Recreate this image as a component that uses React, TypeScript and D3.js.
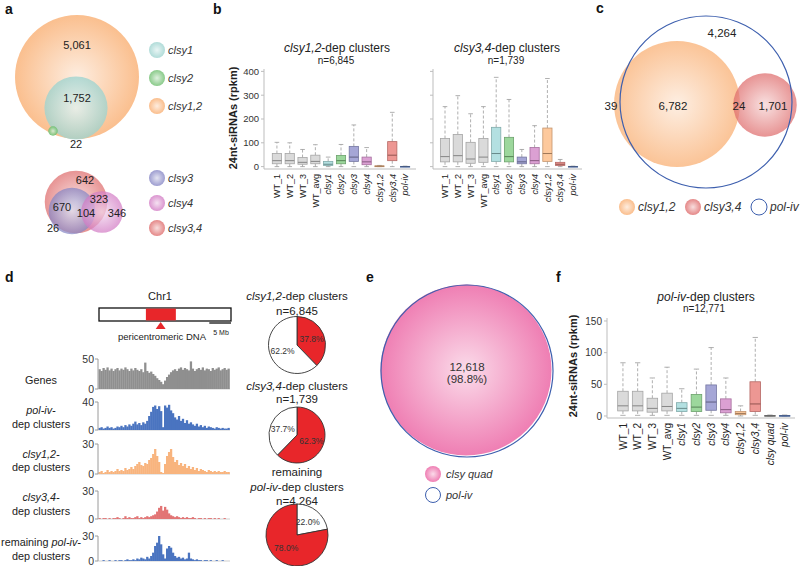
import * as d3 from 'd3';
import React from 'react';

const FONT = "'Liberation Sans', Arial, sans-serif";

// ---------- panel a : Venn counts ----------
const vennATopSets = ['clsy1,2', 'clsy1', 'clsy2'];
const vennATopSizes = [6835, 1774, 40];
const vennATopLabels = ['5,061', '1,752', '22'];
const vennABotSets = ['clsy3,4', 'clsy3', 'clsy4'];
const vennABotSizes = [1739, 800, 773];
const vennABotLabels = ['642', '323', '670', '104', '346', '26'];
const legendA1 = ['clsy1', 'clsy2', 'clsy1,2'];
const legendA2 = ['clsy3', 'clsy4', 'clsy3,4'];

// ---------- panel b : box plots [low, q1, median, q3, high] ----------
const bCats = ['WT_1', 'WT_2', 'WT_3', 'WT_avg', 'clsy1', 'clsy2', 'clsy3', 'clsy4', 'clsy1,2', 'clsy3,4', 'pol-iv'];
const bStats12 = [
  [0, 12, 25, 55, 102], [0, 12, 25, 55, 100], [0, 10, 18, 38, 72], [0, 12, 22, 48, 92],
  [0, 5, 10, 22, 40], [0, 12, 25, 47, 93], [0, 22, 40, 85, 175], [0, 8, 20, 40, 80],
  [0, 1, 2, 3, 5], [0, 25, 48, 105, 228], [0, 0, 0.5, 1, 2],
];
const bStats34 = [
  [0, 20, 42, 118, 252], [0, 20, 46, 135, 298], [0, 14, 32, 102, 222], [0, 18, 40, 118, 252],
  [0, 22, 55, 165, 375], [0, 20, 42, 123, 282], [0, 12, 20, 40, 72], [0, 12, 25, 80, 172],
  [0, 22, 55, 162, 370], [0, 5, 10, 18, 30], [0, 0, 0.5, 1, 2],
];
const bTicks = [0, 100, 200, 300, 400];

// ---------- panel c ----------
const vennCSets = ['pol-iv', 'clsy1,2', 'clsy3,4'];
const vennCSizes = [12771, 6845, 1739];
const vennCLabels = ['4,264', '39', '6,782', '24', '1,701'];
const legendC = ['clsy1,2', 'clsy3,4', 'pol-iv'];

// ---------- panel d : chromosome + tracks ----------
const chrLengthMb = 30.4;
const pericentromereMb = [10.8, 17.7];
const centromereMb = 14.2;
const scaleBarMb = 5;
const trackMax = [50, 40, 30, 30, 30];
const genesBins = [33, 30, 35, 32, 36, 31, 34, 30, 33, 35, 31, 34, 32, 36, 33, 30, 34, 31, 35, 32, 30, 33, 28, 44, 30, 27, 29, 25, 22, 18, 15, 12, 8, 14, 20, 24, 28, 31, 33, 30, 34, 36, 32, 35, 33, 31, 46, 34, 30, 33, 35, 32, 36, 31, 34, 33, 30, 35, 32, 34, 36, 31, 33, 35, 32, 34];
const polivBins = [3, 4, 2, 3, 5, 3, 4, 2, 3, 5, 4, 6, 4, 7, 5, 8, 6, 9, 12, 8, 10, 7, 11, 9, 13, 20, 26, 33, 35, 30, 34, 27, 4, 35, 32, 36, 28, 24, 18, 15, 20, 13, 16, 10, 14, 9, 11, 8, 6, 9, 5, 7, 4, 6, 3, 5, 4, 3, 2, 4, 3, 2, 3, 2, 2, 3];
const clsy12Bins = [2, 3, 1, 2, 4, 2, 3, 2, 3, 5, 3, 4, 3, 6, 4, 5, 7, 5, 8, 10, 12, 9, 8, 11, 10, 14, 16, 20, 25, 18, 12, 2, 1, 10, 18, 22, 25, 17, 12, 14, 9, 11, 8, 10, 6, 8, 5, 7, 4, 6, 3, 5, 4, 3, 2, 4, 3, 2, 3, 2, 3, 2, 2, 3, 2, 2];
const clsy34Bins = [1, 0, 1, 1, 0, 1, 0, 1, 1, 2, 1, 0, 1, 3, 1, 2, 1, 1, 2, 3, 1, 2, 1, 2, 3, 2, 3, 4, 5, 8, 12, 14, 9, 13, 10, 6, 4, 3, 2, 3, 2, 1, 2, 1, 2, 1, 1, 2, 1, 0, 1, 1, 0, 1, 0, 1, 1, 0, 1, 0, 1, 0, 0, 1, 0, 0];
const remainingBins = [0, 0, 1, 0, 0, 1, 0, 0, 1, 0, 1, 1, 0, 1, 2, 1, 1, 2, 1, 3, 2, 4, 3, 2, 5, 3, 6, 10, 18, 22, 30, 20, 8, 3, 15, 18, 16, 10, 6, 4, 5, 3, 4, 2, 3, 10, 3, 2, 1, 2, 1, 1, 0, 1, 1, 0, 1, 0, 0, 1, 0, 0, 1, 0, 0, 0];

// pies
const pieValues = [[37.8, 62.2], [62.3, 37.7], [22.0, 78.0]];
const pieKinds = [['dep', 'other'], ['dep', 'other'], ['other', 'dep']];
const pieN = ['n=6,845', 'n=1,739', 'n=4,264'];

// ---------- panel e ----------
const vennESets = ['clsy quad', 'pol-iv'];
const vennESizes = [12618, 12771];
const vennELabels = ['12,618', '(98.8%)'];

// ---------- panel f ----------
const fCats = ['WT_1', 'WT_2', 'WT_3', 'WT_avg', 'clsy1', 'clsy2', 'clsy3', 'clsy4', 'clsy1,2', 'clsy3,4', 'clsy quad', 'pol-iv'];
const fStats = [
  [1, 8, 16, 39, 84], [1, 8, 16, 39, 84], [1, 6, 12, 28, 60], [1, 8, 15, 36, 77],
  [1, 7, 12, 21, 43], [1, 7, 14, 34, 74], [1, 9, 22, 49, 108], [1, 5, 10, 27, 60],
  [0, 2, 4, 7, 16], [1, 7, 19, 54, 124], [0, 0, 0.3, 0.8, 1.5], [0, 0, 0.3, 0.8, 1.5],
];
const fTicks = [0, 50, 100, 150];

// colours
const vennColor: Record<string, string> = {
  'clsy1': '#9dd3cf', 'clsy2': '#6cbd6c', 'clsy1,2': '#f9ad6f', 'clsy3': '#8484c4',
  'clsy4': '#d27ac4', 'clsy3,4': '#de6a6a', 'clsy quad': '#ec68a6',
};
const boxColor: Record<string, string> = {
  'WT': '#d4d4d4', 'clsy1': '#a6dbdc', 'clsy2': '#8bd08b', 'clsy3': '#9597cf', 'clsy4': '#d58fcb',
  'clsy1,2': '#fdbf8c', 'clsy3,4': '#ea8580', 'clsy quad': '#9a9a9a', 'pol-iv': '#6d8fd1',
};
const POLIV = '#3d5fae';
const RED = '#e8262a';

const gid = (k: string) => 'g_' + k.replace(/[^a-z0-9]/gi, '_');
const isItal = (s: string) => s.startsWith('clsy') || s.startsWith('pol');

type Seg = [string, boolean];
function Mixed({ x, y, segs, size, anchor = 'middle', weight = 'normal' }: { x: number; y: number; segs: Seg[]; size: number; anchor?: string; weight?: string }) {
  return (
    <text x={x} y={y} fontSize={size} textAnchor={anchor} fontWeight={weight} fill="#222">
      {segs.map(([t, it], i) => <tspan key={i} fontStyle={it ? 'italic' : 'normal'}>{t}</tspan>)}
    </text>
  );
}

function Bubble({ cx, cy, r, k, opacity = 0.78 }: { cx: number; cy: number; r: number; k: string; opacity?: number }) {
  return <circle cx={cx} cy={cy} r={r} fill={`url(#${gid(k)})`} fillOpacity={opacity} />;
}

function Boxes({ cats, stats, x, y, step }: { cats: string[]; stats: number[][]; x: d3.ScaleBand<string>; y: d3.ScaleLinear<number, number>; step: number }) {
  const bw = step * 0.72;
  const cw = step * 0.36;
  return (
    <g>
      {cats.map((c, i) => {
        const [lo, q1, md, q3, hi] = stats[i];
        const cx = (x(c) as number) + x.bandwidth() / 2;
        const fill = boxColor[c.startsWith('WT') ? 'WT' : c];
        const stroke = d3.color(fill)!.darker(0.7).formatHex();
        const med = d3.color(fill)!.darker(1.3).formatHex();
        return (
          <g key={c}>
            <line x1={cx} x2={cx} y1={y(q3)} y2={y(hi)} stroke="#9a9a9a" strokeWidth={0.8} strokeDasharray="3,2" />
            <line x1={cx} x2={cx} y1={y(q1)} y2={y(lo)} stroke="#9a9a9a" strokeWidth={0.8} strokeDasharray="3,2" />
            <line x1={cx - cw / 2} x2={cx + cw / 2} y1={y(hi)} y2={y(hi)} stroke="#9a9a9a" strokeWidth={0.8} />
            <line x1={cx - cw / 2} x2={cx + cw / 2} y1={y(lo)} y2={y(lo)} stroke="#9a9a9a" strokeWidth={0.8} />
            <rect x={cx - bw / 2} width={bw} y={y(q3)} height={Math.max(0.8, y(q1) - y(q3))} fill={fill} fillOpacity={0.85} stroke={stroke} strokeWidth={0.8} />
            <line x1={cx - bw / 2} x2={cx + bw / 2} y1={y(md)} y2={y(md)} stroke={med} strokeWidth={1} />
          </g>
        );
      })}
    </g>
  );
}

function XLabels({ cats, x, y0, size }: { cats: string[]; x: d3.ScaleBand<string>; y0: number; size: number }) {
  return (
    <g>
      {cats.map((c) => {
        const cx = (x(c) as number) + x.bandwidth() / 2 + size * 0.36;
        return (
          <text key={c} transform={`translate(${cx},${y0}) rotate(-90)`} textAnchor="end" fontSize={size}
            fontStyle={isItal(c) ? 'italic' : 'normal'} fill="#222">{c}</text>
        );
      })}
    </g>
  );
}

function YAxis({ x, y, ticks, y0, y1, labels, size }: { x: number; y: d3.ScaleLinear<number, number>; ticks: number[]; y0: number; y1: number; labels: boolean; size: number }) {
  return (
    <g>
      <line x1={x} x2={x} y1={y0} y2={y1} stroke="#bdbdbd" strokeWidth={1} />
      {ticks.map((t) => (
        <g key={t}>
          <line x1={x - 3} x2={x} y1={y(t)} y2={y(t)} stroke="#bdbdbd" strokeWidth={1} />
          {labels && <text x={x - 5} y={y(t) + size * 0.36} textAnchor="end" fontSize={size} fill="#333">{t}</text>}
        </g>
      ))}
    </g>
  );
}

function Track({ bins, max, top, bottom, color }: { bins: number[]; max: number; top: number; bottom: number; color: string }) {
  const x = d3.scaleBand<number>().domain(d3.range(bins.length)).range([98.5, 229.5]);
  const y = d3.scaleLinear().domain([0, max]).range([bottom, top]);
  return (
    <g>
      <line x1={98} x2={230} y1={bottom} y2={bottom} stroke="#cfcfcf" strokeWidth={1} />
      {bins.map((v, i) => (
        <rect key={i} x={x(i)} width={x.bandwidth() + 0.3} y={y(v)} height={bottom - y(v)} fill={color} />
      ))}
      <line x1={98} x2={98} y1={top} y2={bottom} stroke="#9a9a9a" strokeWidth={1} />
      <line x1={95} x2={98} y1={top} y2={top} stroke="#9a9a9a" strokeWidth={1} />
      <line x1={95} x2={98} y1={bottom} y2={bottom} stroke="#9a9a9a" strokeWidth={1} />
      <text x={94} y={top + 3.5} textAnchor="end" fontSize={10.5} fill="#333">{max}</text>
      <text x={94} y={bottom + 3.5} textAnchor="end" fontSize={10.5} fill="#333">0</text>
    </g>
  );
}

export default function App() {
  // venn radius scales (area proportional)
  const rA = d3.scaleSqrt().domain([0, vennATopSizes[0]]).range([0, 62]);
  const rC = d3.scaleSqrt().domain([0, vennCSizes[0]]).range([0, 86]);
  const rE = d3.scaleSqrt().domain([0, vennESizes[1]]).range([0, 86]);

  // layout of venn circles
  const aTopPos = [[77, 77], [76, 108], [53, 131]];
  const aTopLab = [[77, 49], [77, 102], [76, 148]];
  const aBotPos = [[76, 202], [72, 211], [102, 212]];
  const aBotLab = [[85, 184], [99, 203], [62, 211], [86, 217], [117, 217], [53, 232]];
  const cPos = [[706, 102], [677, 104], [765, 105]];
  const cLab = [[722, 37], [611, 110], [673, 110], [739, 110], [773, 110]];

  // panel b scales
  const yB = d3.scaleLinear().domain([-10, 410]).range([169, 69]);
  const xB1 = d3.scaleBand<string>().domain(bCats).range([270.5, 411.5]);
  const xB2 = d3.scaleBand<string>().domain(bCats).range([438.6, 579.4]);
  // panel f scales
  const yF = d3.scaleLinear().domain([-3.2, 154.7]).range([418, 318]);
  const xF = d3.scaleBand<string>().domain(fCats).range([615.6, 792]);

  // chromosome
  const chrX = d3.scaleLinear().domain([0, chrLengthMb]).range([99, 231]);
  const cenX = chrX(centromereMb);

  const tracks = [
    { bins: genesBins, top: 359, bottom: 389, color: '#8f8f8f', lab: [[['Genes', false]]] as Seg[][], ly: [384] },
    { bins: polivBins, top: 402, bottom: 430, color: '#4a74c0', lab: [[['pol-iv-', true]], [['dep clusters', false]]] as Seg[][], ly: [414, 428] },
    { bins: clsy12Bins, top: 444, bottom: 474, color: '#f8b47e', lab: [[['clsy1,2-', true]], [['dep clusters', false]]] as Seg[][], ly: [458, 471] },
    { bins: clsy34Bins, top: 491, bottom: 519, color: '#e27474', lab: [[['clsy3,4-', true]], [['dep clusters', false]]] as Seg[][], ly: [501, 515] },
    { bins: remainingBins, top: 536, bottom: 561, color: '#4a74c0', lab: [[['remaining ', false], ['pol-iv-', true]], [['dep clusters', false]]] as Seg[][], ly: [546, 560] },
  ];

  const pieCy = [345, 435, 535];
  const pieR = [28.5, 28, 31];
  const pieTitle: { segs: Seg[]; y: number }[][] = [
    [{ segs: [['clsy1,2', true], ['-dep clusters', false]], y: 300 }, { segs: [[pieN[0], false]], y: 315 }],
    [{ segs: [['clsy3,4', true], ['-dep clusters', false]], y: 390 }, { segs: [[pieN[1], false]], y: 403 }],
    [{ segs: [['remaining', false]], y: 476 }, { segs: [['pol-iv', true], ['-dep clusters', false]], y: 491 }, { segs: [[pieN[2], false]], y: 505 }],
  ];
  const pieGen = d3.pie<number>().sort(null).startAngle(0).endAngle(2 * Math.PI);

  const allKeys = Object.keys(vennColor);

  return (
    <svg width={800} height={566} style={{ position: 'absolute', left: 0, top: 0, background: '#fff' }} fontFamily={FONT}>
      <defs>
        {allKeys.map((k) => (
          <radialGradient key={k} id={gid(k)} cx="50%" cy="50%" r="50%">
            <stop offset="0%" stopColor={d3.interpolateRgb(vennColor[k], '#ffffff')(0.72)} />
            <stop offset="100%" stopColor={vennColor[k]} />
          </radialGradient>
        ))}
      </defs>

      {/* panel letters */}
      {[['a', 5, 14], ['b', 213, 14], ['c', 596, 13], ['d', 5, 282], ['e', 366, 282], ['f', 556, 282]].map(([t, x, y]) => (
        <text key={t as string} x={x as number} y={y as number} fontSize={14} fontWeight="bold" fill="#111">{t}</text>
      ))}

      {/* ---------- a ---------- */}
      {vennATopSets.map((k, i) => <Bubble key={k} cx={aTopPos[i][0]} cy={aTopPos[i][1]} r={rA(vennATopSizes[i])} k={k} opacity={i === 2 ? 0.9 : 0.78} />)}
      {vennATopLabels.map((t, i) => <text key={t} x={aTopLab[i][0]} y={aTopLab[i][1]} fontSize={11} textAnchor="middle" fill="#222">{t}</text>)}
      {vennABotSets.map((k, i) => <Bubble key={k} cx={aBotPos[i][0]} cy={aBotPos[i][1]} r={rA(vennABotSizes[i]) * (i === 1 ? 1.1 : 1)} k={k} opacity={0.72} />)}
      {vennABotLabels.map((t, i) => <text key={t} x={aBotLab[i][0]} y={aBotLab[i][1]} fontSize={11} textAnchor="middle" fill="#222">{t}</text>)}
      {legendA1.map((k, i) => (
        <g key={k}>
          <Bubble cx={157} cy={50 + i * 28} r={8} k={k} opacity={0.8} />
          <text x={168} y={54 + i * 28} fontSize={11} fontStyle="italic" fill="#333">{k}</text>
        </g>
      ))}
      {legendA2.map((k, i) => (
        <g key={k}>
          <Bubble cx={157} cy={178 + i * 25} r={8} k={k} opacity={0.8} />
          <text x={168} y={182 + i * 25} fontSize={11} fontStyle="italic" fill="#333">{k}</text>
        </g>
      ))}

      {/* ---------- b ---------- */}
      <text transform="translate(237,118) rotate(-90)" textAnchor="middle" fontSize={11} fontWeight="bold" fill="#222">24nt-siRNAs (rpkm)</text>
      <Mixed x={337} y={52} segs={[['clsy1,2', true], ['-dep clusters', false]]} size={12} />
      <Mixed x={336} y={64} segs={[['n=6,845', false]]} size={10} />
      <Mixed x={507} y={52} segs={[['clsy3,4', true], ['-dep clusters', false]]} size={12} />
      <Mixed x={506} y={64} segs={[['n=1,739', false]]} size={10} />
      <YAxis x={264} y={yB} ticks={bTicks} y0={69} y1={169} labels size={9.5} />
      <line x1={264} x2={416} y1={169} y2={169} stroke="#bdbdbd" strokeWidth={1} />
      <Boxes cats={bCats} stats={bStats12} x={xB1} y={yB} step={xB1.step()} />
      <XLabels cats={bCats} x={xB1} y0={174} size={9} />
      <YAxis x={433} y={yB} ticks={bTicks} y0={69} y1={169} labels={false} size={9.5} />
      <line x1={433} x2={582} y1={169} y2={169} stroke="#bdbdbd" strokeWidth={1} />
      <Boxes cats={bCats} stats={bStats34} x={xB2} y={yB} step={xB2.step()} />
      <XLabels cats={bCats} x={xB2} y0={174} size={9} />

      {/* ---------- c ---------- */}
      <Bubble cx={cPos[1][0]} cy={cPos[1][1]} r={rC(vennCSizes[1])} k="clsy1,2" opacity={0.72} />
      <Bubble cx={cPos[2][0]} cy={cPos[2][1]} r={rC(vennCSizes[2])} k="clsy3,4" opacity={0.72} />
      <circle cx={cPos[0][0]} cy={cPos[0][1]} r={rC(vennCSizes[0])} fill="none" stroke={POLIV} strokeWidth={1.2} />
      {vennCLabels.map((t, i) => <text key={t} x={cLab[i][0]} y={cLab[i][1]} fontSize={11.5} textAnchor="middle" fill="#222">{t}</text>)}
      {legendC.map((k, i) => (
        <g key={k}>
          {k === 'pol-iv'
            ? <circle cx={627 + i * 66} cy={207} r={8} fill="none" stroke={POLIV} strokeWidth={1} />
            : <Bubble cx={627 + i * 66} cy={207} r={8} k={k} opacity={0.8} />}
          <text x={638 + i * 66} y={211} fontSize={12} fontStyle="italic" fill="#333">{k}</text>
        </g>
      ))}

      {/* ---------- d : chromosome ---------- */}
      <text x={160} y={300} fontSize={11} textAnchor="middle" fill="#222">Chr1</text>
      <rect x={chrX(0)} y={308} width={chrX(chrLengthMb) - chrX(0)} height={13} fill="#fff" stroke="#111" strokeWidth={1.3} />
      <rect x={chrX(pericentromereMb[0])} y={308.6} width={chrX(pericentromereMb[1]) - chrX(pericentromereMb[0])} height={11.8} fill={RED} />
      <path d={`M${cenX - 5},329 L${cenX + 5},329 L${cenX},322 Z`} fill={RED} />
      <text x={162} y={340} fontSize={9.5} textAnchor="middle" fill="#222">pericentromeric DNA</text>
      <line x1={chrX(chrLengthMb) - (chrX(scaleBarMb) - chrX(0))} x2={chrX(chrLengthMb)} y1={323} y2={323} stroke="#111" strokeWidth={1.3} />
      <text x={221} y={335} fontSize={7} textAnchor="middle" fill="#222">{scaleBarMb} Mb</text>

      {tracks.map((t, i) => (
        <g key={i}>
          <Track bins={t.bins} max={trackMax[i]} top={t.top} bottom={t.bottom} color={t.color} />
          {t.lab.map((segs, j) => <Mixed key={j} x={41} y={t.ly[j]} segs={segs} size={10.8} />)}
        </g>
      ))}

      {/* pies */}
      {pieValues.map((vals, i) => {
        const arcs = pieGen(vals);
        const arc = d3.arc<d3.PieArcDatum<number>>().innerRadius(0).outerRadius(pieR[i]);
        const lab = d3.arc<d3.PieArcDatum<number>>().innerRadius(pieR[i] * 0.55).outerRadius(pieR[i] * 0.55);
        return (
          <g key={i}>
            {pieTitle[i].map((p, j) => <Mixed key={j} x={297} y={p.y} segs={p.segs} size={11.5} />)}
            <g transform={`translate(297,${pieCy[i]})`}>
              {arcs.map((a, j) => (
                <path key={j} d={arc(a) || ''} fill={pieKinds[i][j] === 'dep' ? RED : '#fff'} stroke="#333" strokeWidth={0.9} />
              ))}
              {arcs.map((a, j) => {
                const [lx, ly] = lab.centroid(a);
                return <text key={'t' + j} x={lx} y={ly + 3} fontSize={8.5} textAnchor="middle" fill="#333">{vals[j].toFixed(1)}%</text>;
              })}
            </g>
          </g>
        );
      })}

      {/* ---------- e ---------- */}
      <Bubble cx={466} cy={370} r={rE(vennESizes[0])} k="clsy quad" opacity={0.85} />
      <circle cx={467} cy={371} r={rE(vennESizes[1])} fill="none" stroke={POLIV} strokeWidth={1.2} />
      <text x={467} y={371} fontSize={11.5} textAnchor="middle" fill="#333">{vennELabels[0]}</text>
      <text x={467} y={383} fontSize={11.5} textAnchor="middle" fill="#333">{vennELabels[1]}</text>
      <Bubble cx={433} cy={474} r={8} k="clsy quad" opacity={0.85} />
      <text x={446} y={478} fontSize={11} fontStyle="italic" fill="#333">{vennESets[0]}</text>
      <circle cx={433} cy={495} r={7.5} fill="none" stroke={POLIV} strokeWidth={1} />
      <text x={446} y={499} fontSize={11} fontStyle="italic" fill="#333">{vennESets[1]}</text>

      {/* ---------- f ---------- */}
      <text transform="translate(577,366) rotate(-90)" textAnchor="middle" fontSize={11} fontWeight="bold" fill="#222">24nt-siRNAs (rpkm)</text>
      <Mixed x={706} y={301} segs={[['pol-iv', true], ['-dep clusters', false]]} size={12} />
      <Mixed x={704} y={312} segs={[['n=12,771', false]]} size={10} />
      <YAxis x={607} y={yF} ticks={fTicks} y0={318} y1={418} labels size={10} />
      <line x1={607} x2={795} y1={418} y2={418} stroke="#bdbdbd" strokeWidth={1} />
      <Boxes cats={fCats} stats={fStats} x={xF} y={yF} step={xF.step()} />
      <XLabels cats={fCats} x={xF} y0={423} size={10} />
    </svg>
  );
}
